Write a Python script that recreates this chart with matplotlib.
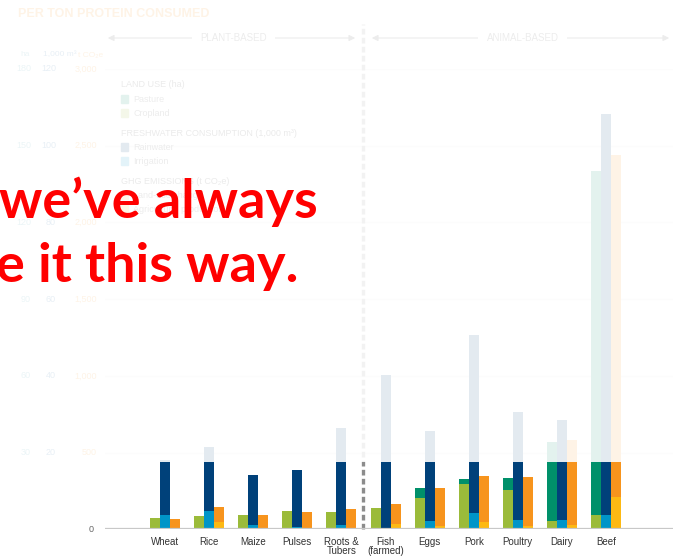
import matplotlib
matplotlib.use("Agg")
import matplotlib.pyplot as plt
import matplotlib.transforms as mtransforms
from matplotlib.patches import Rectangle, FancyArrowPatch
import numpy as np

# %% data (per ton of protein consumed)
foods = ["Wheat", "Rice", "Maize", "Pulses", "Roots &\nTubers",
         "Fish\n(farmed)", "Eggs", "Pork", "Poultry", "Dairy", "Beef"]
# land use, ha
cropland = [4.4, 5.1, 5.5, 7.3, 6.8, 8.2, 12.3, 17.9, 15.5, 3.4, 5.5]
pasture = [0, 0, 0, 0, 0, 0, 3.8, 1.9, 4.6, 30.8, 134.8]
# freshwater consumption, 1,000 m3
irrigation = [3.8, 4.8, 1.1, 0.6, 1.1, 0.0, 2.2, 4.3, 2.4, 2.4, 3.8]
rainwater = [14.2, 16.6, 13.0, 14.8, 25.3, 40.3, 23.3, 46.4, 28.1, 26.1, 104.5]
# GHG emissions, t CO2e
agri_prod = [0, 48, 0, 0, 0, 33, 22, 48, 22, 28, 213]
luc = [67, 97, 95, 113, 130, 132, 246, 302, 318, 554, 2225]

ha_ticks = [30, 60, 90, 120, 150, 180]
water_ticks = [20, 40, 60, 80, 100, 120]
ghg_ticks = ["500", "1,000", "1,500", "2,000", "2,500", "3,000"]

# one axis in ha units; other measures scaled onto it
WATER_SCALE = 180 / 120
GHG_SCALE = 180 / 3000

c_crop = "#9bbb3a"
c_past = "#00906a"
c_rain = "#00417a"
c_irr = "#0095c8"
c_luc = "#f7941d"
c_agr = "#fdb913"

plt.rcParams["font.family"] = ["Liberation Sans", "DejaVu Sans"]

W, H = 678, 556
fx = lambda px: px / W
fy = lambda py: 1 - py / H

fig = plt.figure(figsize=(W / 100, H / 100), dpi=100)
base_px, top_px = 529.3, 69
ax = fig.add_axes([fx(105), fy(base_px), fx(673) - fx(105), (base_px - top_px) / H])

step = 44.1
ax.set_xlim((105 - 165) / step, (673 - 165) / step)
ax.set_ylim(0, 180)
ax.axis("off")

for t in ha_ticks:
    ax.axhline(t, color="#e4e4e4", lw=0.9, zorder=0)
ax.axhline(0, color="#c8c8c8", lw=1.6, zorder=3)

x = np.arange(len(foods))
bw = 10 / step
crop = np.array(cropland)
irr = np.array(irrigation) * WATER_SCALE
agr = np.array(agri_prod) * GHG_SCALE
ax.bar(x - bw, crop, bw, color=c_crop, zorder=2)
ax.bar(x - bw, pasture, bw, bottom=crop, color=c_past, zorder=2)
ax.bar(x, irr, bw, color=c_irr, zorder=2)
ax.bar(x, np.array(rainwater) * WATER_SCALE, bw, bottom=irr, color=c_rain, zorder=2)
ax.bar(x + bw, agr, bw, color=c_agr, zorder=2)
ax.bar(x + bw, np.array(luc) * GHG_SCALE, bw, bottom=agr, color=c_luc, zorder=2)

# plant / animal separator
ax.plot([4.5, 4.5], [0, (base_px - 25) / 2.553], color="#8c8c8c", lw=2.4,
        dashes=(1.7, 1.0), clip_on=False, zorder=1)

for i, lab in enumerate(foods):
    ax.text(i, -2.9, lab, ha="center", va="top", fontsize=7, color="#333333",
            linespacing=0.95)

# three y scales as text columns
tr = mtransforms.blended_transform_factory(fig.transFigure, ax.transData)
for h, w, g in zip(ha_ticks, water_ticks, ghg_ticks):
    ax.text(fx(31), h, str(h), transform=tr, ha="right", va="center", fontsize=6.5, color="#4aa3b5")
    ax.text(fx(56), h, str(w), transform=tr, ha="right", va="center", fontsize=6.5, color="#2a6fa8")
    ax.text(fx(97), h, g, transform=tr, ha="right", va="center", fontsize=6.5, color="#f7941d")
ax.text(fx(94), 0, "0", transform=tr, ha="right", va="center", fontsize=6.5, color="#666666")
fig.text(fx(20), fy(55), "ha", ha="left", va="center", fontsize=6, color="#4aa3b5")
fig.text(fx(43), fy(55), "1,000 m³", ha="left", va="center", fontsize=6, color="#2a6fa8")
fig.text(fx(78), fy(55), "t CO₂e", ha="left", va="center", fontsize=6, color="#f7941d")

fig.text(fx(18), fy(14), "PER TON PROTEIN CONSUMED", ha="left", va="center", fontsize=9,
         fontweight="bold", color="#f7941d")

# plant-based / animal-based arrows
for x1, x2, lab in [(105, 358, "PLANT-BASED"), (369, 672, "ANIMAL-BASED")]:
    fig.add_artist(FancyArrowPatch((fx(x1), fy(38)), (fx(x2), fy(38)), transform=fig.transFigure,
                                   arrowstyle="<|-|>", mutation_scale=9, color="#555555", lw=0.8))
    fig.text(fx((x1 + x2) / 2 + 2), fy(38), lab, ha="center", va="center", fontsize=7,
             color="#555555", bbox=dict(facecolor="white", edgecolor="none", pad=6))

# legend block
legend = [("LAND USE (ha)", [("Pasture", c_past), ("Cropland", c_crop)]),
          ("FRESHWATER CONSUMPTION (1,000 m³)", [("Rainwater", c_rain), ("Irrigation", c_irr)]),
          ("GHG EMISSIONS (t CO₂e)", [("Land-use change", c_luc), ("Agricultural production", c_agr)])]
y0 = 85
for head, items in legend:
    fig.text(fx(121), fy(y0), head, ha="left", va="center", fontsize=6.5, color="#444444")
    for k, (name, col) in enumerate(items):
        yy = y0 + 14 * (k + 1)
        fig.add_artist(Rectangle((fx(121), fy(yy + 3.5)), 7 / W, 7 / H, transform=fig.transFigure,
                                 color=col))
        fig.text(fx(133), fy(yy), name, ha="left", va="center", fontsize=6.5, color="#555555")
    y0 += 48

# washed-out top part of the slide
fig.add_artist(Rectangle((0, fy(462)), 1, 1 - fy(462), transform=fig.transFigure,
                         facecolor="white", edgecolor="none", alpha=0.895, zorder=5))

fig.text(fx(318), fy(218), "we’ve always", ha="right", va="baseline", fontsize=39,
         fontweight="bold", color="#ff0000", family=["Lato", "DejaVu Sans"], zorder=10)
fig.text(fx(298), fy(282), "e it this way.", ha="right", va="baseline", fontsize=39,
         fontweight="bold", color="#ff0000", family=["Lato", "DejaVu Sans"], zorder=10)

fig.savefig("out.png", dpi=100, facecolor="w")
